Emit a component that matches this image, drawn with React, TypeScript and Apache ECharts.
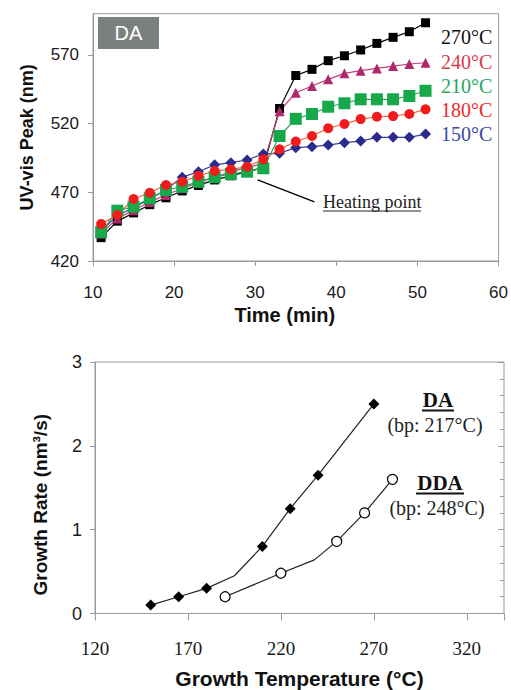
import React, { useEffect, useRef } from "react";
import * as echarts from "echarts";

// ---------- Top panel: UV-vis peak vs time ----------
const TIME = [11, 13, 15, 17, 19, 21, 23, 25, 27, 29, 31, 33, 35, 37, 39, 41, 43, 45, 47, 49, 51];
const PEAK_270 = [437, 449, 455, 461, 466, 471, 475, 479, 482, 485, 488, 531, 555, 559.5, 565.8, 569.4, 573.6, 578.4, 582.8, 586.9, 593.4];
const PEAK_240 = [440, 451, 457, 463, 468, 473, 477, 481, 485, 488, 491, 529, 542.5, 547.4, 552.2, 556.6, 558.5, 560.2, 561.9, 563.4, 564.3];
const PEAK_210 = [441, 456.6, 459.5, 465.6, 471.7, 474.1, 477.7, 481, 483.3, 485, 487.5, 511, 523.5, 527, 532.3, 534.8, 537.7, 537.7, 537.7, 540.1, 543.9];
const PEAK_180 = [447, 453.5, 465.1, 469.7, 475.3, 477.7, 482, 485.5, 486.7, 488.6, 494, 501.3, 507, 511, 516.6, 519.7, 523.3, 525, 525.5, 527, 530.4];
const PEAK_150 = [442, 453, 459, 465, 472, 481, 485, 490, 491.6, 493.5, 497.9, 498.4, 502.5, 503.2, 504.4, 506.1, 507.3, 510, 510, 510, 512.4];
const TEMP_LABELS = ["270°C", "240°C", "210°C", "180°C", "150°C"];
const HEATING_ARROW = [[37.3, 463], [30.3, 479]];

// ---------- Bottom panel: growth rate vs temperature ----------
const DA_TEMP = [150, 165, 180, 195, 210, 225, 240, 270];
const DA_RATE = [0.1, 0.2, 0.3, 0.45, 0.8, 1.25, 1.65, 2.5];
const DA_MEASURED = [true, true, true, false, true, true, true, true];
const DDA_TEMP = [190, 220, 238, 250, 265, 280];
const DDA_RATE = [0.2, 0.48, 0.64, 0.86, 1.2, 1.6];
const DDA_MEASURED = [true, true, false, true, true, true];

const SANS = "'Liberation Sans', Arial, sans-serif";
const SERIF = "'Liberation Serif', 'Times New Roman', serif";
const AXIS_GRAY = "#9a9a9a";

function App() {
  const ref = useRef<HTMLDivElement>(null);

  useEffect(() => {
    if (!ref.current) return;
    const chart = echarts.init(ref.current, null, { renderer: "svg" });

    const pts = (vals: number[]) => TIME.map((t, i) => [t, vals[i]]);
    const fitPts = (xs: number[], ys: number[], m: boolean[]) =>
      xs.map((x, i) => (m[i] ? [x, ys[i]] : { value: [x, ys[i]], symbol: "none" }));

    const topSeries = (
      name: string,
      vals: number[],
      symbol: string,
      size: number,
      color: string,
      lineColor: string,
      extra: any = {}
    ) => ({
      name,
      type: "line",
      xAxisIndex: 0,
      yAxisIndex: 0,
      data: pts(vals),
      symbol,
      symbolSize: size,
      showAllSymbol: true,
      itemStyle: { color },
      lineStyle: { color: lineColor, width: 1.2 },
      z: 3,
      ...extra,
    });

    const option: any = {
      animation: false,
      backgroundColor: "#ffffff",
      grid: [
        { left: 93, top: 13.7, width: 407, height: 247.3, show: true, borderColor: AXIS_GRAY, borderWidth: 1 },
        { left: 95, top: 362, width: 409, height: 251.5, show: true, borderColor: AXIS_GRAY, borderWidth: 1 },
      ],
      xAxis: [
        {
          gridIndex: 0,
          type: "value",
          min: 10,
          max: 60,
          interval: 10,
          splitLine: { show: false },
          axisLine: { lineStyle: { color: AXIS_GRAY } },
          axisTick: { length: 5, lineStyle: { color: AXIS_GRAY } },
          axisLabel: { color: "#1a1a1a", fontFamily: SANS, fontSize: 17, margin: 23 },
          name: "Time (min)",
          nameLocation: "middle",
          nameGap: 44,
          nameTextStyle: { fontFamily: SANS, fontWeight: "bold", fontSize: 20, color: "#111", padding: [0, 22, 0, 0] },
        },
        {
          gridIndex: 1,
          type: "value",
          min: 120,
          max: 340,
          interval: 50,
          splitLine: { show: false },
          axisLine: { lineStyle: { color: AXIS_GRAY } },
          axisTick: { length: 5, lineStyle: { color: AXIS_GRAY } },
          axisLabel: { color: "#1a1a1a", fontFamily: SERIF, fontSize: 19, margin: 25, showMaxLabel: false },
          name: "Growth Temperature (°C)",
          nameLocation: "middle",
          nameGap: 54,
          nameTextStyle: { fontFamily: SANS, fontWeight: "bold", fontSize: 21, color: "#111" },
        },
        {
          gridIndex: 1,
          type: "value",
          min: 120,
          max: 340,
          interval: 50,
          splitLine: { show: false },
          axisLine: { show: false },
          axisTick: { inside: true, length: 7, lineStyle: { color: AXIS_GRAY } },
          axisLabel: { show: false },
        },
      ],
      yAxis: [
        {
          gridIndex: 0,
          type: "value",
          min: 420,
          max: 600,
          interval: 50,
          splitLine: { show: false },
          axisLine: { show: true, lineStyle: { color: AXIS_GRAY } },
          axisTick: { show: true, length: 5, lineStyle: { color: AXIS_GRAY } },
          axisLabel: { color: "#1a1a1a", fontFamily: SANS, fontSize: 17, margin: 14, showMaxLabel: false },
          name: "UV-vis Peak (nm)",
          nameLocation: "middle",
          nameGap: 57,
          nameTextStyle: { fontFamily: SANS, fontWeight: "bold", fontSize: 18, color: "#111" },
        },
        {
          gridIndex: 1,
          type: "value",
          min: 0,
          max: 3,
          interval: 1,
          splitLine: { show: false },
          axisLine: { show: true, lineStyle: { color: AXIS_GRAY } },
          axisTick: { show: true, length: 5, lineStyle: { color: AXIS_GRAY } },
          axisLabel: { color: "#1a1a1a", fontFamily: SANS, fontSize: 18, margin: 13 },
          name: "Growth Rate (nm³/s)",
          nameLocation: "middle",
          nameGap: 45,
          nameTextStyle: { fontFamily: SANS, fontWeight: "bold", fontSize: 19, color: "#111", padding: [0, 34, 0, 0] },
        },
        {
          gridIndex: 1,
          type: "value",
          min: 0,
          max: 3,
          interval: 1,
          splitLine: { show: false },
          axisLine: { show: false },
          axisTick: { show: true, inside: true, length: 6, lineStyle: { color: AXIS_GRAY } },
          minorTick: { show: true, splitNumber: 5, length: 4, lineStyle: { color: AXIS_GRAY } },
          axisLabel: { show: false },
        },
      ],
      series: [
        topSeries("270°C", PEAK_270, "rect", 9, "#000000", "#000000", {
          markLine: {
            silent: true,
            symbol: ["none", "arrow"],
            symbolSize: [0, 10],
            label: { show: false },
            lineStyle: { color: "#000", width: 1.4, type: "solid" },
            data: [[{ coord: HEATING_ARROW[0] }, { coord: HEATING_ARROW[1] }]],
          },
        }),
        topSeries("240°C", PEAK_240, "triangle", 10, "#b0286c", "#c0407a"),
        topSeries("150°C", PEAK_150, "diamond", 11, "#2a2c8c", "#3a3c9c"),
        topSeries("210°C", PEAK_210, "rect", 12, "#16a84a", "#22a858"),
        topSeries("180°C", PEAK_180, "circle", 10, "#f01c1c", "#f0603a"),
        {
          name: "DA",
          type: "line",
          xAxisIndex: 1,
          yAxisIndex: 1,
          data: fitPts(DA_TEMP, DA_RATE, DA_MEASURED),
          symbol: "diamond",
          symbolSize: 11,
          itemStyle: { color: "#000" },
          lineStyle: { color: "#222", width: 1.2 },
        },
        {
          name: "DDA",
          type: "line",
          xAxisIndex: 1,
          yAxisIndex: 1,
          data: fitPts(DDA_TEMP, DDA_RATE, DDA_MEASURED),
          symbol: "circle",
          symbolSize: 10,
          itemStyle: { color: "#fff", borderColor: "#000", borderWidth: 1.2 },
          lineStyle: { color: "#222", width: 1.2 },
        },
      ],
      graphic: [
        { type: "rect", shape: { x: 98, y: 17, width: 61, height: 32 }, style: { fill: "#7b7f80" } },
        {
          type: "text",
          x: 128.5,
          y: 33,
          style: { text: "DA", fill: "#fff", font: `20px ${SANS}`, textAlign: "center", textVerticalAlign: "middle" },
        },
        ...TEMP_LABELS.map((t, i) => ({
          type: "text",
          x: 441,
          y: [37, 62, 86, 110, 134][i],
          style: {
            text: t,
            fill: ["#111111", "#d83a4c", "#1aa85a", "#f02a2a", "#3a48a8"][i],
            font: `20px ${SERIF}`,
            textAlign: "left",
            textVerticalAlign: "middle",
          },
        })),
        {
          type: "text",
          x: 323,
          y: 202,
          style: { text: "Heating point", fill: "#222", font: `18px ${SERIF}`, textAlign: "left", textVerticalAlign: "middle" },
        },
        { type: "line", shape: { x1: 323, y1: 211, x2: 421, y2: 211 }, style: { stroke: "#222", lineWidth: 1 } },
        {
          type: "text",
          x: 438,
          y: 400,
          style: { text: "DA", fill: "#111", font: `bold 21px ${SERIF}`, textAlign: "center", textVerticalAlign: "middle" },
        },
        { type: "line", shape: { x1: 422, y1: 410.5, x2: 454, y2: 410.5 }, style: { stroke: "#111", lineWidth: 2 } },
        {
          type: "text",
          x: 435,
          y: 425,
          style: { text: "(bp: 217°C)", fill: "#222", font: `20px ${SERIF}`, textAlign: "center", textVerticalAlign: "middle" },
        },
        {
          type: "text",
          x: 440,
          y: 483,
          style: { text: "DDA", fill: "#111", font: `bold 21px ${SERIF}`, textAlign: "center", textVerticalAlign: "middle" },
        },
        { type: "line", shape: { x1: 416, y1: 493.5, x2: 464, y2: 493.5 }, style: { stroke: "#111", lineWidth: 2 } },
        {
          type: "text",
          x: 437,
          y: 508,
          style: { text: "(bp: 248°C)", fill: "#222", font: `20px ${SERIF}`, textAlign: "center", textVerticalAlign: "middle" },
        },
      ],
    };

    chart.setOption(option);
    return () => chart.dispose();
  }, []);

  return (
    <div
      ref={ref}
      style={{ position: "absolute", left: 0, top: 0, width: 511, height: 690, background: "#fff" }}
    />
  );
}

export default App;
